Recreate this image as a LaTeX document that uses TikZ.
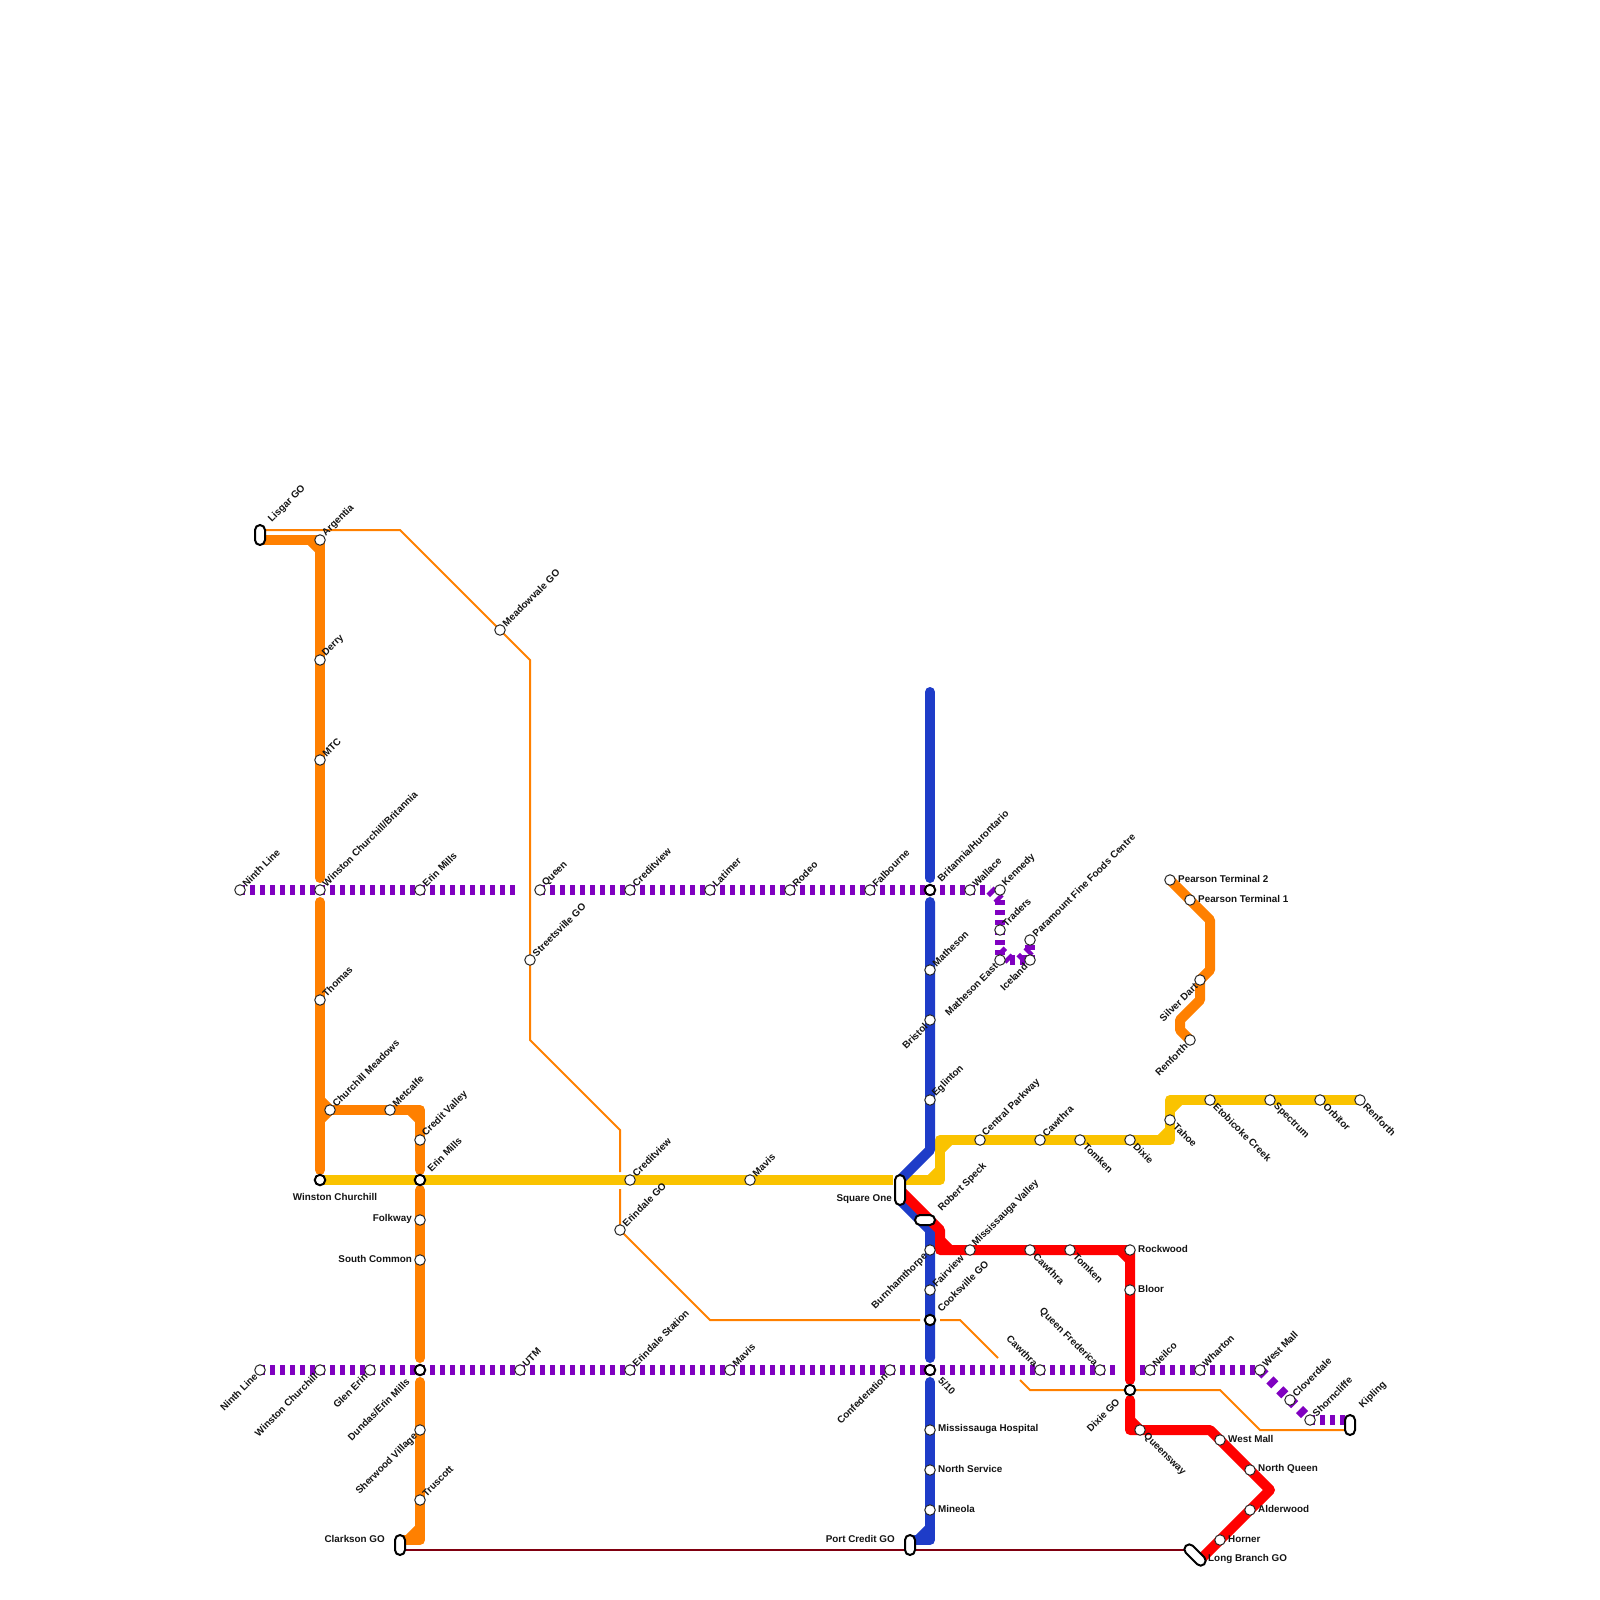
\documentclass[tikz,border=0pt]{standalone}
\usepackage{fontspec}
\setmainfont{Liberation Sans}
\usetikzlibrary{backgrounds}
\definecolor{lorange}{RGB}{255,128,0}
\definecolor{lblue}{RGB}{30,60,200}
\definecolor{lyellow}{RGB}{250,195,0}
\definecolor{lred}{RGB}{255,0,0}
\definecolor{lpurple}{RGB}{128,0,192}
\definecolor{ldark}{RGB}{128,0,16}
\definecolor{ltext}{RGB}{20,20,20}
\tikzset{
 stationdot/.style={circle,draw=black!85,fill=white,line width=1pt,minimum size=10.5pt,inner sep=0pt},
 ringdot/.style={circle,draw=black,fill=white,line width=2pt,minimum size=10.5pt,inner sep=0pt},
 capsule/.style={draw=black,fill=white,line width=2pt,rounded corners=5pt,inner sep=0pt,minimum width=10pt,minimum height=20pt},
 txt/.style={font=\bfseries\fontsize{9.85}{11}\selectfont,text=ltext,inner sep=0pt},
 lne/.style={txt,shift={(4,-5)},rotate=45,anchor=west},
 lnf/.style={txt,shift={(9,-10)},rotate=45,anchor=west},
 lsw/.style={txt,shift={(-4,5)},rotate=45,anchor=east},
 lswf/.style={txt,shift={(-12,10)},rotate=45,anchor=east},
 lse/.style={txt,shift={(5,5)},rotate=-45,anchor=west},
 lsef/.style={txt,shift={(10,9)},rotate=-45,anchor=west},
 lnw/.style={txt,shift={(-4,-5)},rotate=-45,anchor=east},
 lr/.style={txt,anchor=west,shift={(8,-1)}},
 ll/.style={txt,anchor=east,shift={(-8,-1)}},
 thickline/.style={line width=10pt,line cap=round,line join=round},
 thinline/.style={line width=2pt,lorange,line join=miter},
 dashline/.style={line width=10pt,lpurple,dash pattern=on 5pt off 5pt},
 diagdash/.style={line width=10pt,lpurple,dash pattern=on 7pt off 7pt},
}
\newcommand{\stn}[5][stationdot]{\node[#1] (#2) at (#3) {}; \node[#4] (#2l) at (#3) {#5};}
\newcommand{\cp}[2]{\coordinate (#1) at (#2);}
\begin{document}
\begin{tikzpicture}[x=1pt,y=-1pt]
\useasboundingbox (0,0) rectangle (1600,1600);
% capsules
\node[capsule] (lisgar) at (260,535) {};
\node[txt,shift={(270,521)},rotate=45,anchor=west] (lisgarl) at (0,0) {Lisgar GO};
\node[capsule] (kipling) at (1350,1425) {};
\node[txt,shift={(1361,1407)},rotate=45,anchor=west] (kiplingl) at (0,0) {Kipling};
\node[capsule] (clarkson) at (400,1545) {};
\node[txt,anchor=east] (clarksonl) at (385,1539) {Clarkson GO};
\node[capsule] (portcredit) at (910,1545) {};
\node[txt,anchor=east] (portcreditl) at (895,1539) {Port Credit GO};
\node[capsule,minimum height=30pt] (squareone) at (900,1190) {};
\node[txt,anchor=east] (squareonel) at (892,1199) {Square One};
\node[capsule,minimum width=20pt,minimum height=10pt] (robertspeck) at (925,1220) {};
\node[txt,shift={(940,1210)},rotate=45,anchor=west] (robertspeckl) at (0,0) {Robert Speck};
\node[capsule,rotate=45,minimum width=10pt,minimum height=26pt] (longbranch) at (1195,1555) {};
\node[txt,anchor=west] (longbranchl) at (1208,1559) {Long Branch GO};
% orange line 1
\stn{argentia}{320,540}{lne}{Argentia}
\stn{derry}{320,660}{lne}{Derry}
\stn{mtc}{320,760}{lne}{MTC}
\stn{wcb}{320,890}{lne}{Winston Churchill/Britannia}
\stn{thomas}{320,1000}{lne}{Thomas}
\stn{cmeadows}{330,1110}{lne}{Churchill Meadows}
\stn{metcalfe}{390,1110}{lne}{Metcalfe}
\stn{creditvalley}{420,1140}{lne}{Credit Valley}
\stn[ringdot]{wchurchill}{320,1180}{txt}{}
\node[txt] (wchurchilltxt) at (335,1197) {Winston Churchill};
\stn[ringdot]{erinmills}{420,1180}{lnf}{Erin Mills}
\stn{folkway}{420,1220}{ll}{Folkway}
\stn{southcommon}{420,1260}{ll}{South Common}
\stn[ringdot]{dundas}{420,1370}{lswf}{Dundas/Erin Mills}
\stn{sherwood}{420,1430}{lsw}{Sherwood Village}
\stn{truscott}{420,1500}{lne}{Truscott}
% purple 890
\stn{ninth}{240,890}{lne}{Ninth Line}
\stn{erinmillsb}{420,890}{lne}{Erin Mills}
\stn{queen}{540,890}{lne}{Queen}
\stn{creditviewa}{630,890}{lne}{Creditview}
\stn{latimer}{710,890}{lne}{Latimer}
\stn{rodeo}{790,890}{lne}{Rodeo}
\stn{falbourne}{870,890}{lne}{Falbourne}
\stn[ringdot]{britannia}{930,890}{lnf}{Britannia/Hurontario}
\stn{wallace}{970,890}{lne}{Wallace}
\stn{kennedy}{1000,890}{lne}{Kennedy}
\stn{traders}{1000,930}{lne}{Traders}
\stn{mathesone}{1000,960}{lsw}{Matheson East}
\stn{iceland}{1030,960}{lsw}{Iceland}
\stn{paramount}{1030,940}{lne}{Paramount Fine Foods Centre}
% blue
\stn{matheson}{930,970}{lne}{Matheson}
\stn{bristol}{930,1020}{lsw}{Bristol}
\stn{eglinton}{930,1100}{lne}{Eglinton}
\stn{burnham}{930,1250}{lsw}{Burnhamthorpe}
\stn{fairview}{930,1290}{lne}{Fairview}
\stn[ringdot]{cooksville}{930,1320}{lnf}{Cooksville GO}
\stn[ringdot]{fiveten}{930,1370}{lsef}{5/10}
\stn{hospital}{930,1430}{lr}{Mississauga Hospital}
\stn{northservice}{930,1470}{lr}{North Service}
\stn{mineola}{930,1510}{lr}{Mineola}
% yellow
\stn{creditviewb}{630,1180}{lne}{Creditview}
\stn{mavisa}{750,1180}{lne}{Mavis}
\stn{central}{980,1140}{lne}{Central Parkway}
\stn{cawthraa}{1040,1140}{lne}{Cawthra}
\stn{tomkena}{1080,1140}{lse}{Tomken}
\stn{dixie}{1130,1140}{lse}{Dixie}
\stn{tahoe}{1170,1120}{lse}{Tahoe}
\stn{etobicoke}{1210,1100}{lse}{Etobicoke Creek}
\stn{spectrum}{1270,1100}{lse}{Spectrum}
\stn{orbitor}{1320,1100}{lse}{Orbitor}
\stn{renfortha}{1360,1100}{lse}{Renforth}
% red
\stn{missvalley}{970,1250}{lne}{Mississauga Valley}
\stn{cawthrab}{1030,1250}{lse}{Cawthra}
\stn{tomkenb}{1070,1250}{lse}{Tomken}
\stn{rockwood}{1130,1250}{lr}{Rockwood}
\stn{bloor}{1130,1290}{lr}{Bloor}
\stn[ringdot]{dixiego}{1130,1390}{lswf}{Dixie GO}
\stn{queensway}{1140,1430}{lse}{Queensway}
\stn{westmalla}{1220,1440}{lr}{West Mall}
\stn{northqueen}{1250,1470}{lr}{North Queen}
\stn{alderwood}{1250,1510}{lr}{Alderwood}
\stn{horner}{1220,1540}{lr}{Horner}
% purple 1370
\stn{ninthb}{260,1370}{lsw}{Ninth Line}
\stn{wchurchillb}{320,1370}{lsw}{Winston Churchill}
\stn{glenerin}{370,1370}{lsw}{Glen Erin}
\stn{utm}{520,1370}{lne}{UTM}
\stn{erindalest}{630,1370}{lne}{Erindale Station}
\stn{mavisb}{730,1370}{lne}{Mavis}
\stn{confed}{890,1370}{lsw}{Confederation}
\stn{cawthrac}{1040,1370}{lnw}{Cawthra}
\stn{frederica}{1100,1370}{lnw}{Queen Frederica}
\stn{neilco}{1150,1370}{lne}{Neilco}
\stn{wharton}{1200,1370}{lne}{Wharton}
\stn{westmallb}{1260,1370}{lne}{West Mall}
\stn{cloverdale}{1290,1400}{lne}{Cloverdale}
\stn{shorncliffe}{1310,1420}{lne}{Shorncliffe}
% thin orange stations
\stn{meadowvale}{500,630}{lne}{Meadowvale GO}
\stn{streetsville}{530,960}{lne}{Streetsville GO}
\stn{erindalego}{620,1230}{lne}{Erindale GO}
% orange 2
\stn{pearson2}{1170,880}{lr}{Pearson Terminal 2}
\stn{pearson1}{1190,900}{lr}{Pearson Terminal 1}
\stn{silverdart}{1200,980}{lsw}{Silver Dart}
\stn{renforthb}{1190,1040}{lsw}{Renforth}
% bends
\cp{t1}{400,530}\cp{t2}{530,660}\cp{t3}{530,1040}\cp{t4}{620,1130}\cp{t5}{620,1172}\cp{t6}{620,1189}
\cp{t7}{710,1320}\cp{t8}{920,1320}\cp{t9}{940,1320}\cp{t10}{960,1320}\cp{t11}{998,1358}\cp{t12}{1020,1380}
\cp{t13}{1030,1390}\cp{t14}{1220,1390}\cp{t15}{1260,1430}\cp{t0}{260,530}\cp{t16}{1345,1430}
\begin{pgfonlayer}{background}
% thin lines
\draw[thinline] (t0) -- (t1) -- (t2) -- (t3) -- (t4) -- (t5);
\draw[thinline] (t6) -- (erindalego.center) -- (t7) -- (t8);
\draw[thinline] (t9) -- (t10) -- (t11);
\draw[thinline] (t12) -- (t13) -- (t14) -- (t15) -- (t16);
\draw[line width=2.4pt,ldark] (clarkson.south east |- 0,1550) -- (1190,1550);
% orange
\draw[thickline,lorange] (262,540) -- (argentia.center) -- (320,878);
\draw[thickline,lorange] (310,540) -- (320,550);
\draw[thickline,lorange] (320,902) -- (320,1170);
\draw[thickline,lorange] (320,1100) -- (cmeadows.center) -- (320,1120);
\draw[thickline,lorange] (cmeadows.center) -- (420,1110) -- (420,1170);
\draw[thickline,lorange] (410,1110) -- (420,1120);
\draw[thickline,lorange] (420,1190) -- (420,1358);
\draw[thickline,lorange] (420,1382) -- (420,1540) -- (402,1540);
\draw[thickline,lorange] (420,1528) -- (408,1540);
\draw[thickline,lorange,line cap=butt] (pearson2.center) -- (1210,920) -- (1210,970) -- (silverdart.center) -- (1200,1000) -- (1180,1020) -- (1180,1030) -- (renforthb.center);
% yellow
\draw[thickline,lyellow,line cap=butt] (wchurchill.center) -- (893,1180);
\draw[thickline,lyellow] (903,1180) -- (940,1180) -- (940,1140) -- (1170,1140) -- (1170,1100) -- (1360,1100);
\draw[thickline,lyellow] (930,1180) -- (940,1170);
\draw[thickline,lyellow] (940,1150) -- (950,1140);
\draw[thickline,lyellow] (1160,1140) -- (1170,1130);
\draw[thickline,lyellow] (1170,1110) -- (1180,1100);
% blue
\draw[thickline,lblue] (930,692) -- (930,878);
\draw[thickline,lblue] (930,902) -- (930,1150) -- (900,1180) -- (900,1200) -- (930,1230) -- (930,1358);
\draw[thickline,lblue] (930,1382) -- (930,1540) -- (915,1540);
\draw[thickline,lblue] (930,1528) -- (918,1540);
% red
\draw[thickline,lred] (900,1190) -- (940,1230) -- (940,1250) -- (1130,1250) -- (1130,1380);
\draw[thickline,lred] (940,1240) -- (950,1250);
\draw[thickline,lred] (1120,1250) -- (1130,1260);
\draw[thickline,lred] (1130,1400) -- (1130,1430) -- (1210,1430) -- (1270,1490) -- (1200,1560);
\draw[thickline,lred] (1130,1420) -- (1140,1430);
% purple
\draw[dashline] (ninth.center) -- (515,890);
\draw[dashline] (queen.center) -- (990,890);
\draw[dashline] (990,890) -- (1000,900);
\draw[dashline] (1000,900) -- (mathesone.center);
\draw[dashline] (1000,950) -- (1010,960);
\draw[dashline] (1010,960) -- (iceland.center);
\draw[dashline] (1020,960) -- (1030,950);
\draw[dashline] (iceland.center) -- (paramount.center);
\draw[dashline] (ninthb.center) -- (1115,1370);
\draw[dashline] (1140,1370) -- (westmallb.center);
\draw[diagdash] (westmallb.center) -- (shorncliffe.center);
\draw[dashline] (shorncliffe.center) -- (1345,1420);
\end{pgfonlayer}
\end{tikzpicture}
\end{document}
